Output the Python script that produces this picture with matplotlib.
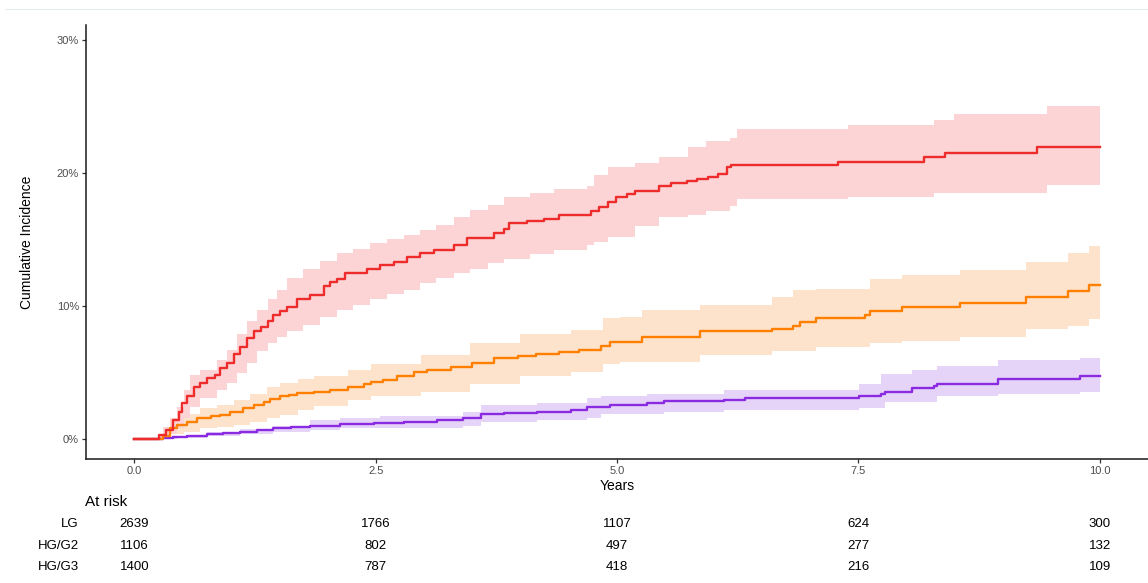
import matplotlib
matplotlib.use("Agg")
import matplotlib.pyplot as plt
import matplotlib.transforms as mtransforms
from matplotlib.lines import Line2D
import numpy as np

plt.rcParams['font.family'] = ['Liberation Sans', 'DejaVu Sans']

# cumulative incidence (%) step curves, value after each step time
g3_t = [0, 0.26, 0.33, 0.40, 0.46, 0.49, 0.55, 0.62, 0.68, 0.75, 0.84, 0.89, 0.96, 1.03, 1.10,
        1.17, 1.24, 1.31, 1.38, 1.44, 1.51, 1.58, 1.69, 1.82, 1.96, 2.03, 2.10, 2.18, 2.41, 2.55,
        2.69, 2.83, 2.96, 3.10, 3.31, 3.45, 3.73, 3.83, 3.88, 4.07, 4.24, 4.40, 4.73, 4.81, 4.91,
        4.99, 5.10, 5.19, 5.43, 5.56, 5.72, 5.83, 5.94, 6.05, 6.14, 6.18, 7.29, 8.18, 8.40, 9.35,
        10.0]
g3_v = [0, 0.3, 0.7, 1.4, 2.05, 2.7, 3.2, 3.9, 4.2, 4.6, 4.8, 5.3, 5.7, 6.4, 6.9,
        7.6, 8.1, 8.4, 8.9, 9.3, 9.6, 9.9, 10.5, 10.8, 11.5, 11.8, 12.0, 12.5, 12.8, 13.1,
        13.3, 13.7, 13.95, 14.2, 14.6, 15.1, 15.5, 15.8, 16.2, 16.4, 16.5, 16.8, 17.1, 17.4, 17.8,
        18.2, 18.4, 18.6, 19.0, 19.2, 19.4, 19.5, 19.7, 19.9, 20.4, 20.6, 20.8, 21.2, 21.5, 21.9,
        21.9]
g3_bt = [0, 0.25, 0.30, 0.37, 0.44, 0.51, 0.58, 0.68, 0.86, 0.96, 1.06, 1.17, 1.27, 1.38, 1.48,
         1.58, 1.75, 1.92, 2.10, 2.27, 2.44, 2.62, 2.79, 2.96, 3.13, 3.31, 3.48, 3.66, 3.83, 4.10,
         4.35, 4.69, 4.76, 4.91, 5.19, 5.43, 5.74, 5.92, 6.17, 6.24, 7.39, 8.28, 8.49, 9.45, 10]
g3_hi = [0, 0.3, 0.9, 1.6, 2.4, 3.7, 4.8, 5.2, 5.9, 6.7, 7.9, 8.9, 9.7, 10.5, 11.2,
         12.1, 12.8, 13.4, 13.95, 14.3, 14.7, 15.0, 15.3, 15.7, 16.1, 16.7, 17.2, 17.6, 18.2, 18.5,
         18.8, 19.0, 19.8, 20.4, 20.7, 21.2, 21.9, 22.4, 22.6, 23.3, 23.6, 24.0, 24.4, 25.0, 25.0]
g3_lo = [0, 0, 0.1, 0.4, 0.8, 1.55, 2.4, 3.05, 3.7, 4.2, 4.95, 5.7, 6.6, 7.2, 7.7,
         8.1, 8.6, 9.2, 9.7, 10.1, 10.5, 10.9, 11.2, 11.7, 12.1, 12.5, 12.8, 13.2, 13.5, 13.9,
         14.2, 14.6, 14.8, 15.2, 16.0, 16.7, 16.8, 17.1, 17.5, 18.0, 18.2, 18.5, 18.5, 19.1, 19.1]

g2_t = [0, 0.30, 0.37, 0.44, 0.55, 0.65, 0.79, 0.89, 0.99, 1.13, 1.24, 1.34, 1.41, 1.51, 1.60,
        1.69, 1.86, 2.03, 2.21, 2.38, 2.45, 2.58, 2.72, 2.90, 3.03, 3.28, 3.50, 3.73, 3.97, 4.16,
        4.40, 4.61, 4.83, 4.93, 5.26, 5.86, 6.61, 6.82, 6.90, 7.06, 7.57, 7.62, 7.95, 8.55, 9.24,
        9.67, 9.89, 10]
g2_v = [0, 0.2, 0.8, 1.05, 1.3, 1.55, 1.7, 1.8, 2.05, 2.3, 2.55, 2.8, 3.0, 3.2, 3.3,
        3.45, 3.55, 3.7, 3.9, 4.1, 4.3, 4.4, 4.7, 5.05, 5.2, 5.4, 5.7, 6.05, 6.2, 6.4,
        6.55, 6.7, 7.0, 7.3, 7.7, 8.1, 8.3, 8.5, 8.8, 9.1, 9.3, 9.6, 9.9, 10.2, 10.7,
        11.1, 11.6, 11.6]
g2_bt = [0, 0.30, 0.37, 0.51, 0.68, 0.86, 1.03, 1.20, 1.37, 1.51, 1.70, 1.86, 2.21, 2.45, 2.97,
         3.48, 4.00, 4.52, 4.86, 5.03, 5.26, 5.86, 6.61, 6.82, 7.06, 7.62, 7.95, 8.55, 9.24, 9.67,
         9.89, 10]
g2_hi = [0, 0.3, 1.4, 1.9, 2.3, 2.55, 2.9, 3.4, 3.9, 4.2, 4.5, 4.7, 5.2, 5.6, 6.3,
         7.2, 7.9, 8.2, 9.1, 9.2, 9.7, 10.1, 10.7, 11.2, 11.3, 12.0, 12.3, 12.7, 13.3, 14.0,
         14.5, 14.5]
g2_lo = [0, 0, 0.35, 0.55, 0.8, 0.9, 1.05, 1.3, 1.6, 1.8, 2.2, 2.5, 2.9, 3.2, 3.55,
         4.1, 4.7, 5.05, 5.6, 5.8, 5.8, 6.3, 6.6, 6.6, 6.9, 7.2, 7.4, 7.7, 8.3, 8.5,
         9.0, 9.0]

lg_t = [0, 0.30, 0.40, 0.55, 0.75, 0.92, 1.10, 1.27, 1.44, 1.62, 1.82, 2.13, 2.48, 2.79, 3.14,
        3.41, 3.59, 3.83, 4.17, 4.52, 4.69, 4.93, 5.31, 5.49, 6.11, 6.33, 7.51, 7.73, 7.78, 8.06,
        8.28, 8.31, 8.95, 9.80, 10]
lg_v = [0, 0.05, 0.15, 0.25, 0.4, 0.48, 0.55, 0.68, 0.8, 0.9, 1.0, 1.1, 1.2, 1.25, 1.4,
        1.55, 1.9, 1.95, 2.05, 2.2, 2.4, 2.55, 2.7, 2.85, 2.9, 3.05, 3.2, 3.4, 3.55, 3.8,
        3.95, 4.1, 4.5, 4.7, 4.7]
lg_bt = [0, 0.30, 0.45, 0.75, 1.10, 1.44, 1.82, 2.13, 2.55, 3.41, 3.59, 4.17, 4.69, 4.83, 5.31,
         5.49, 6.11, 7.51, 7.73, 7.78, 8.06, 8.31, 8.95, 9.80, 10]
lg_hi = [0, 0.1, 0.25, 0.55, 0.75, 0.95, 1.4, 1.55, 1.7, 2.05, 2.55, 2.7, 3.05, 3.2, 3.4,
         3.4, 3.7, 4.1, 4.9, 4.9, 5.2, 5.5, 5.9, 6.1, 6.1]
lg_lo = [0, 0, 0.05, 0.25, 0.4, 0.55, 0.7, 0.8, 0.85, 1.0, 1.3, 1.4, 1.6, 1.9, 1.9,
         2.05, 2.2, 2.3, 2.3, 2.8, 2.8, 3.2, 3.35, 3.55, 3.55]

# number at risk table
risk_times = [0, 2.5, 5, 7.5, 10]
risk_groups = ['LG', 'HG/G2', 'HG/G3']
risk_counts = [[2639, 1766, 1107, 624, 300],
               [1106, 802, 497, 277, 132],
               [1400, 787, 418, 216, 109]]

W, H = 1148, 583
fig = plt.figure(figsize=(W / 100, H / 100), dpi=100)
ax = fig.add_axes([86 / W, 1 - 459 / H, (W - 86) / W, (459 - 25) / H])

curves = [(lg_t, lg_v, lg_bt, lg_hi, lg_lo, '#8a2be2', '#e6d4f8'),
          (g2_t, g2_v, g2_bt, g2_hi, g2_lo, '#ff7f00', '#fde3cb'),
          (g3_t, g3_v, g3_bt, g3_hi, g3_lo, '#ee2c2c', '#fcd4d5')]
#bands first so lines stay on top
for t, v, bt, hi, lo, col, fcol in curves:
    ax.fill_between(bt, lo, hi, step='post', color=fcol, lw=0, zorder=1)
for t, v, bt, hi, lo, col, fcol in curves:
    ax.step(t, v, where='post', color=col, lw=1.7, zorder=3)

ax.set_xlim(-0.5, 10.5)
ax.set_ylim(-1.5, 31.1)
ax.set_xticks([0, 2.5, 5, 7.5, 10])
ax.set_xticklabels(['0.0', '2.5', '5.0', '7.5', '10.0'])
ax.set_yticks([0, 10, 20, 30])
ax.set_yticklabels(['0%', '10%', '20%', '30%'])
ax.tick_params(labelsize=8, labelcolor='#4d4d4d', length=3, width=0.9, color='#333333', pad=2)
for s in ['top', 'right']:
    ax.spines[s].set_visible(False)
for s in ['left', 'bottom']:
    ax.spines[s].set_linewidth(1.1)
    ax.spines[s].set_color('#1a1a1a')

ax.set_xlabel('Years', fontsize=10, labelpad=2.5)
fig.text(27 / W, 1 - 242 / H, 'Cumulative Incidence', rotation=90, fontsize=10,
         ha='center', va='center')

# faint line at the very top
fig.add_artist(Line2D([5 / W, 1], [1 - 9 / H, 1 - 9 / H], color='#e4eee8', lw=0.8))

# at risk table
fig.text(85 / W, 1 - 502 / H, 'At risk', fontsize=11, ha='left', va='center')
trans = mtransforms.blended_transform_factory(ax.transData, fig.transFigure)
row_y = [524, 546, 567]
for g, counts, yy in zip(risk_groups, risk_counts, row_y):
    fig.text(79 / W, 1 - yy / H, g, fontsize=9.5, ha='right', va='center')
    for tt, c in zip(risk_times, counts):
        ax.text(tt, 1 - yy / H, str(c), transform=trans, fontsize=9.5,
                ha='center', va='center', clip_on=False)

fig.savefig('out.png', dpi=100)
